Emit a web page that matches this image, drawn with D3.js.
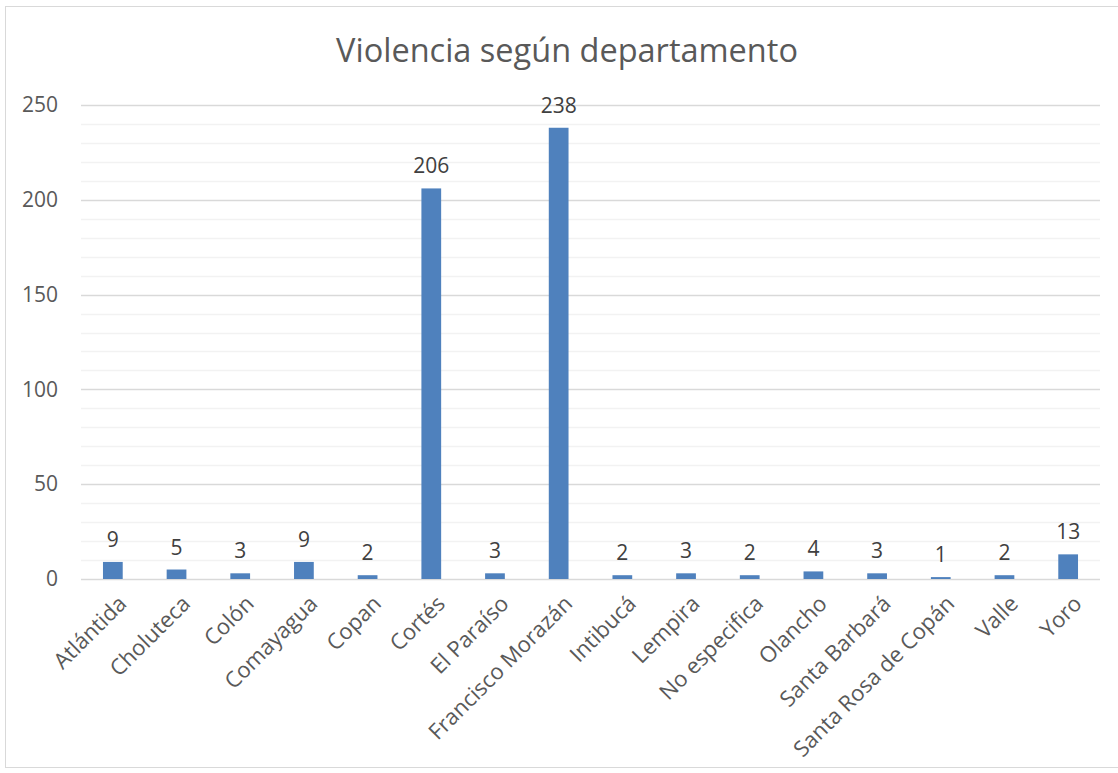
<!DOCTYPE html>
<html>
<head>
<meta charset="utf-8">
<script src="https://cdn.jsdelivr.net/npm/d3@7"></script>
<style>
  body { margin: 0; background: #fff; }
  text { font-family: "Open Sans", sans-serif; }
</style>
</head>
<body>
<svg width="1118" height="773"></svg>
<script>
// data
var departamentos = ["Atlántida", "Choluteca", "Colón", "Comayagua", "Copan", "Cortés", "El Paraíso",
    "Francisco Morazán", "Intibucá", "Lempira", "No especifica", "Olancho", "Santa Barbará",
    "Santa Rosa de Copán", "Valle", "Yoro"];
var casos = [9, 5, 3, 9, 2, 206, 3, 238, 2, 3, 2, 4, 3, 1, 2, 13];
var yTicks = [0, 50, 100, 150, 200, 250];

var svg = d3.select("svg"),
    width = +svg.attr("width"),
    height = +svg.attr("height");

var margin = {left: 81, right: 18, top: 105, bottom: 194};

// chart frame
svg.append("rect")
    .attr("x", 5.5).attr("y", 6.5)
    .attr("width", width + 10).attr("height", 761)
    .style("fill", "none").style("stroke", "#d9d9d9");

svg.append("text")
    .attr("x", 567).attr("y", 62)
    .attr("text-anchor", "middle")
    .style("font-size", "32.5px")
    .style("fill", "#595959")
    .text("Violencia según departamento");

var x = d3.scaleBand()
    .domain(departamentos)
    .range([margin.left, width - margin.right])
    .padding(0);

var y = d3.scaleLinear()
    .domain([0, 250])
    .range([height - margin.bottom, margin.top]);

// minor gridlines
svg.append("g")
    .selectAll("line")
    .data(d3.range(10, 250, 10).filter(function(d) { return d % 50 != 0; }))
    .enter().append("line")
    .attr("x1", margin.left).attr("x2", width - margin.right)
    .attr("y1", function(d) { return Math.round(y(d)) + 0.5; })
    .attr("y2", function(d) { return Math.round(y(d)) + 0.5; })
    .style("stroke", "#f2f2f2")
    .style("stroke-width", 1.5);

// major gridlines
svg.append("g")
    .selectAll("line")
    .data(yTicks)
    .enter().append("line")
    .attr("x1", margin.left).attr("x2", width - margin.right)
    .attr("y1", function(d) { return Math.round(y(d)) + 0.5; })
    .attr("y2", function(d) { return Math.round(y(d)) + 0.5; })
    .style("stroke", "#d9d9d9")
    .style("stroke-width", 1.5);

// y axis labels
var yAxis = svg.append("g")
    .attr("transform", "translate(" + (margin.left - 23) + ",0)")
    .call(d3.axisLeft(y).tickValues(yTicks).tickSize(0).tickPadding(0));
yAxis.select(".domain").remove();
yAxis.selectAll("text")
    .style("font-size", "21px")
    .style("fill", "#595959")
    .style("font-family", "'Open Sans', sans-serif");

// bars
var barW = x.bandwidth() * 0.31;
svg.append("g")
    .selectAll("rect")
    .data(casos)
    .enter().append("rect")
    .attr("x", function(d, i) { return x(departamentos[i]) + (x.bandwidth() - barW) / 2; })
    .attr("y", function(d) { return y(d); })
    .attr("width", barW)
    .attr("height", function(d) { return y(0) - y(d); })
    .style("fill", "#4f81bd");

// data labels
svg.append("g")
    .selectAll("text")
    .data(casos)
    .enter().append("text")
    .attr("x", function(d, i) { return x(departamentos[i]) + x.bandwidth() / 2; })
    .attr("y", function(d) { return y(d) - 15; })
    .attr("text-anchor", "middle")
    .style("font-size", "21px")
    .style("fill", "#404040")
    .text(function(d) { return d; });

// category labels
svg.append("g")
    .selectAll("text")
    .data(departamentos)
    .enter().append("text")
    .attr("transform", function(d) {
        return "translate(" + (x(d) + x.bandwidth() / 2 + 4) + "," + (y(0) + 15) + ") rotate(-45)";
    })
    .attr("text-anchor", "end")
    .attr("dy", "0.71em")
    .style("font-size", "22px")
    .style("fill", "#595959")
    .text(function(d) { return d; });
</script>
</body>
</html>
